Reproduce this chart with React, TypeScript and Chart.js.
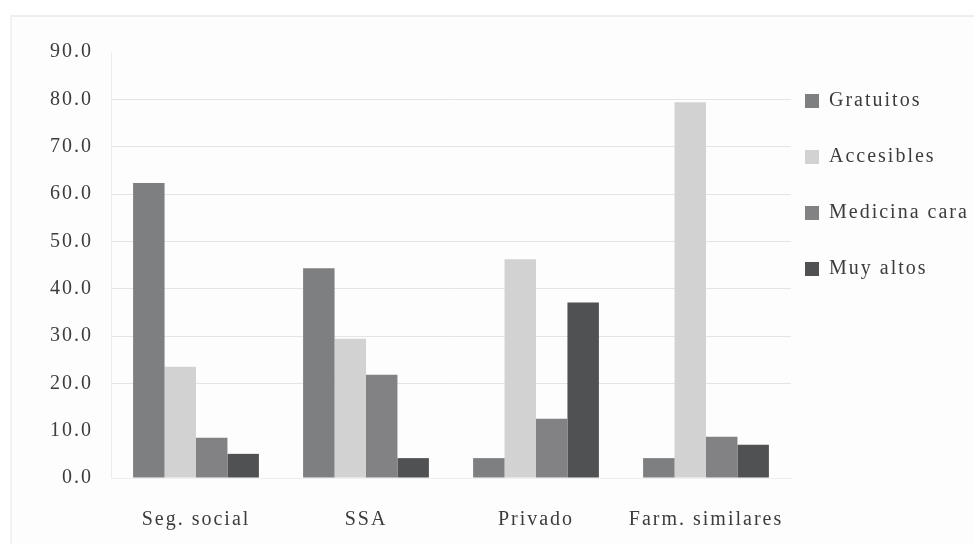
import React, { useEffect, useRef } from "react";
import { Chart, registerables } from "chart.js";

Chart.register(...registerables);

const categories = ["Seg. social", "SSA", "Privado", "Farm. similares"];
const seriesNames = ["Gratuitos", "Accesibles", "Medicina cara", "Muy altos"];
const gratuitos = [62.3, 44.3, 4.2, 4.2];
const accesibles = [23.5, 29.4, 46.2, 79.4];
const medicinaCara = [8.5, 21.8, 12.5, 8.7];
const muyAltos = [5.1, 4.2, 37.1, 7.0];
const seriesColors = ["#7e7f81", "#d2d2d3", "#828285", "#505153"];
const yMin = 0;
const yMax = 90;
const yStep = 10;

const FONT = "'Liberation Serif', 'Times New Roman', serif";

const spacingPlugin = {
  id: "letterSpacing",
  beforeUpdate(chart: any) {
    chart.ctx.letterSpacing = "2px";
  },
  beforeDraw(chart: any) {
    chart.ctx.letterSpacing = "2px";
  },
  afterLayout(chart: any) {
    const lg = chart.legend;
    if (lg) {
      lg.left -= 22;
      lg.right = chart.width;
      lg.top += 3;
      lg.bottom += 3;
    }
  },
};

export default function App() {
  const ref = useRef<HTMLCanvasElement | null>(null);

  useEffect(() => {
    if (!ref.current) return;
    const values = [gratuitos, accesibles, medicinaCara, muyAltos];
    const chart = new Chart(ref.current, {
      type: "bar",
      data: {
        labels: categories,
        datasets: seriesNames.map((name, i) => ({
          label: name,
          data: values[i],
          backgroundColor: seriesColors[i],
          borderWidth: 0,
          barPercentage: 1,
          categoryPercentage: 0.74,
        })),
      },
      options: {
        animation: false,
        responsive: true,
        maintainAspectRatio: false,
        layout: { padding: { left: 32, right: 0, top: 52, bottom: -18 } },
        plugins: {
          tooltip: { enabled: false },
          legend: {
            position: "right",
            align: "start",
            fullSize: false,
            maxWidth: 183,
            labels: {
              boxWidth: 14,
              boxHeight: 14,
              padding: 36,
              color: "#3c3c3c",
              font: { family: FONT, size: 20 },
            },
          },
        },
        scales: {
          x: {
            grid: { display: false, drawTicks: false },
            border: { display: true, color: "#efefef" },
            ticks: {
              color: "#3c3c3c",
              padding: 30,
              font: { family: FONT, size: 20 },
            },
          },
          y: {
            min: yMin,
            max: yMax,
            grid: {
              drawTicks: false,
              color: (c: any) => {
                const v = c.tick ? c.tick.value : null;
                return v === 0 || v === 10 || v === 90 ? "rgba(0,0,0,0)" : "#e4e4e4";
              },
            },
            border: { display: true, color: "#ececec" },
            ticks: {
              stepSize: yStep,
              color: "#3c3c3c",
              padding: 18,
              font: { family: FONT, size: 20 },
              callback: (v: any) => Number(v).toFixed(1),
            },
          },
        },
      },
      plugins: [spacingPlugin],
    });
    return () => chart.destroy();
  }, []);

  return (
    <div
      style={{
        position: "absolute",
        left: 0,
        top: 0,
        width: 974,
        height: 544,
        background: "#ffffff",
        overflow: "hidden",
      }}
    >
      <div
        style={{
          position: "absolute",
          left: 10,
          top: 15,
          right: 0,
          bottom: 0,
          borderTop: "2px solid #eeeeee",
          borderLeft: "2px solid #f2f2f2",
          background: "#fdfdfd",
        }}
      />
      <canvas ref={ref} style={{ position: "absolute", left: 0, top: 0 }} />
    </div>
  );
}
